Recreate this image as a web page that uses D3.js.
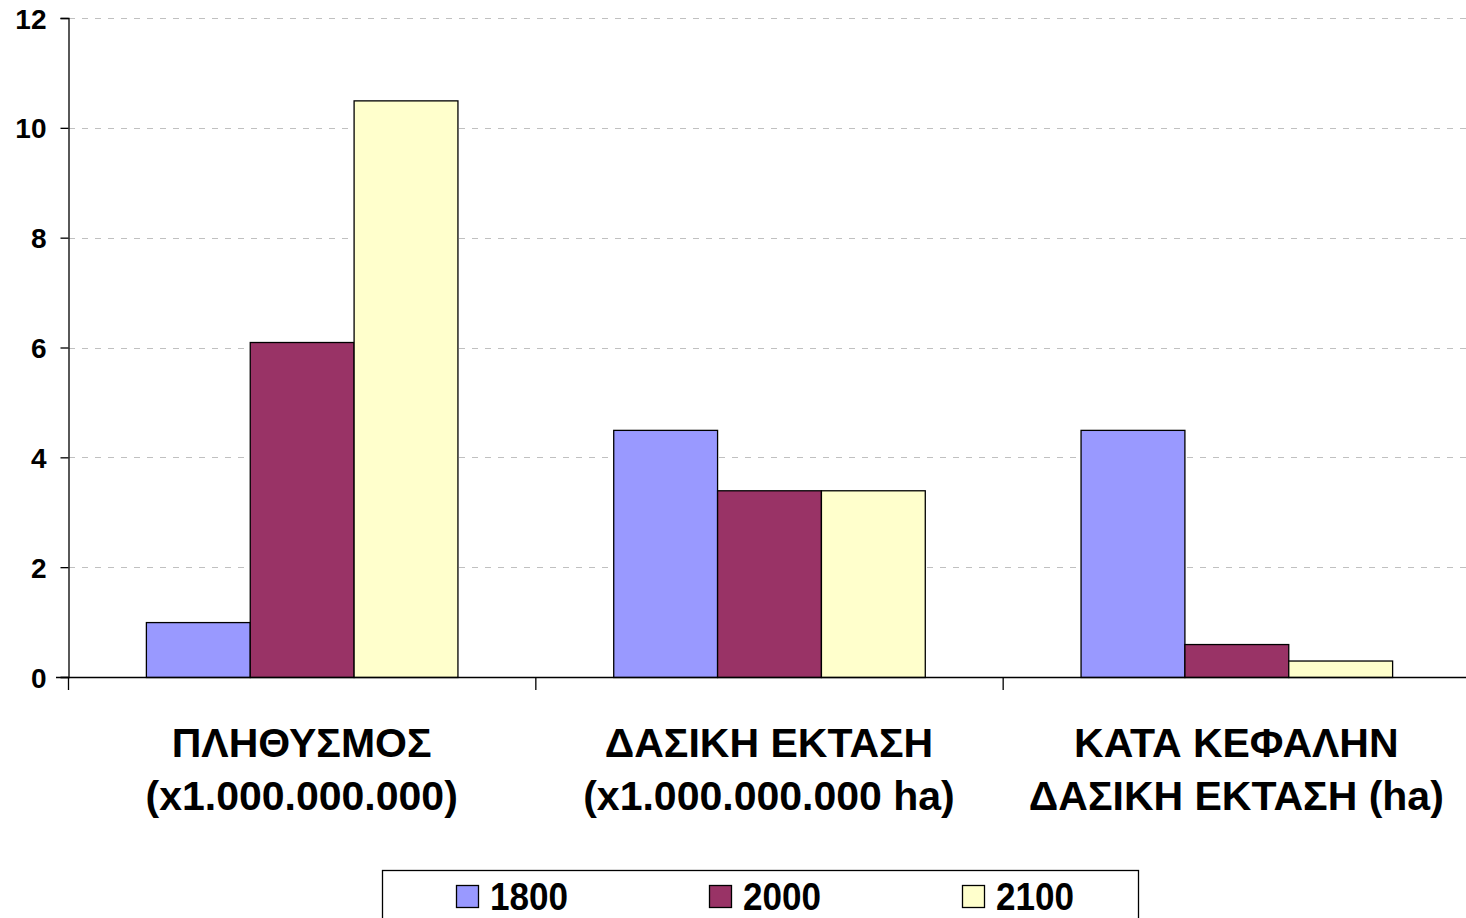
<!DOCTYPE html>
<html lang="el">
<head>
<meta charset="utf-8">
<title>Πληθυσμός και δασική έκταση</title>
<script src="https://cdn.jsdelivr.net/npm/d3@7"></script>
<style>
  body { margin: 0; background: #fff; }
  svg text { font-family: "Liberation Sans", Arial, sans-serif; font-weight: bold; fill: #000; }
</style>
</head>
<body>
<script>
// data
var categories = [
  ["ΠΛΗΘΥΣΜΟΣ", "(x1.000.000.000)"],
  ["ΔΑΣΙΚΗ ΕΚΤΑΣΗ", "(x1.000.000.000 ha)"],
  ["ΚΑΤΑ ΚΕΦΑΛΗΝ", "ΔΑΣΙΚΗ ΕΚΤΑΣΗ (ha)"]
];
var seriesNames = ["1800", "2000", "2100"];
var values1800 = [1, 4.5, 4.5];
var values2000 = [6.1, 3.4, 0.6];
var values2100 = [10.5, 3.4, 0.3];
var yTicks = [0, 2, 4, 6, 8, 10, 12];
var colors = ["#9999ff", "#993366", "#ffffcc"];

var series = [values1800, values2000, values2100];

var W = 1466, H = 918;
var plotLeft = 68, plotRight = 1470, plotTop = 18, plotBottom = 677;

var svg = d3.select("body").append("svg")
  .attr("width", W).attr("height", H);

var x = d3.scaleBand()
  .domain(d3.range(categories.length))
  .range([plotLeft, plotRight]);

var xInner = d3.scaleBand()
  .domain(d3.range(seriesNames.length))
  .range([0, x.bandwidth()])
  .paddingOuter(0.75);

var y = d3.scaleLinear().domain([0, 12]).range([plotBottom, plotTop]);

// gridlines
svg.append("g")
  .selectAll("line")
  .data(yTicks.filter(function(d) { return d > 0; }))
  .enter().append("line")
  .attr("x1", plotLeft + 1).attr("x2", W)
  .attr("y1", function(d) { return Math.round(y(d)) + 0.5; })
  .attr("y2", function(d) { return Math.round(y(d)) + 0.5; })
  .attr("stroke", "#c0c0c0")
  .attr("stroke-dasharray", "6,7");

// bars
series.forEach(function(vals, s) {
  svg.append("g")
    .selectAll("rect")
    .data(vals)
    .enter().append("rect")
    .attr("x", function(d, i) { return x(i) + xInner(s) + 0.5; })
    .attr("y", function(d) { return y(d) + 0.5; })
    .attr("width", xInner.bandwidth())
    .attr("height", function(d) { return plotBottom - y(d); })
    .attr("fill", colors[s])
    .attr("stroke", "#000")
    .attr("stroke-width", 1.3);
});

// y axis
var yAxis = d3.axisLeft(y).tickValues(yTicks).tickSize(8).tickPadding(14);
var yg = svg.append("g")
  .attr("transform", "translate(" + (plotLeft + 0.5) + ",0)")
  .call(yAxis);
yg.select(".domain").attr("stroke", "#000").attr("stroke-width", 1.3);
yg.selectAll(".tick line").attr("stroke", "#000").attr("stroke-width", 1.3);
yg.selectAll(".tick text").style("font-size", "28px").attr("dy", "0.36em");

// x axis
var xAxisLine = svg.append("g");
xAxisLine.append("line")
  .attr("x1", plotLeft - 12).attr("x2", W)
  .attr("y1", plotBottom + 0.5).attr("y2", plotBottom + 0.5)
  .attr("stroke", "#000").attr("stroke-width", 1.3);
xAxisLine.selectAll(".xt")
  .data(d3.range(categories.length))
  .enter().append("line")
  .attr("class", "xt")
  .attr("x1", function(d) { return x(d) + 0.5; })
  .attr("x2", function(d) { return x(d) + 0.5; })
  .attr("y1", plotBottom).attr("y2", plotBottom + 13)
  .attr("stroke", "#000").attr("stroke-width", 1.3);

// category labels
var labels = svg.append("g").selectAll("text")
  .data(categories)
  .enter().append("text")
  .attr("text-anchor", "middle")
  .style("font-size", "41px")
  .attr("x", function(d, i) { return x(i) + x.bandwidth() / 2; })
  .attr("y", 757);
labels.append("tspan")
  .attr("x", function(d, i) { return x(i) + x.bandwidth() / 2; })
  .text(function(d) { return d[0]; });
labels.append("tspan")
  .attr("x", function(d, i) { return x(i) + x.bandwidth() / 2; })
  .attr("dy", 53)
  .text(function(d) { return d[1]; });

// legend
var legend = svg.append("g");
legend.append("rect")
  .attr("x", 382.5).attr("y", 870.5)
  .attr("width", 756).attr("height", 60)
  .attr("fill", "#fff").attr("stroke", "#000").attr("stroke-width", 1.3);

var lx = d3.scalePoint().domain(seriesNames).range([456, 962]);
var items = legend.selectAll(".item")
  .data(seriesNames)
  .enter().append("g")
  .attr("class", "item")
  .attr("transform", function(d) { return "translate(" + lx(d) + ",0)"; });
items.append("rect")
  .attr("x", 0.5).attr("y", 885.5)
  .attr("width", 22).attr("height", 22)
  .attr("fill", function(d, i) { return colors[i]; })
  .attr("stroke", "#000").attr("stroke-width", 1.3);
items.append("text")
  .attr("x", 34).attr("y", 910)
  .style("font-size", "38px")
  .attr("textLength", 78)
  .attr("lengthAdjust", "spacingAndGlyphs")
  .text(function(d) { return d; });
</script>
</body>
</html>
